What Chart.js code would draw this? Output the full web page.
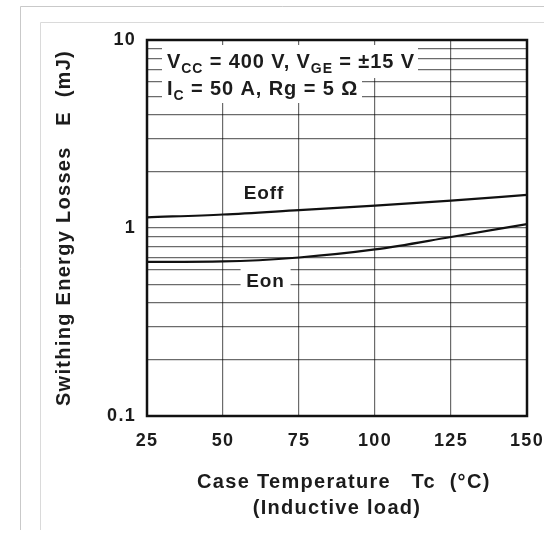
<!DOCTYPE html>
<html>
<head>
<meta charset="utf-8">
<script src="https://cdn.jsdelivr.net/npm/chart.js@4"></script>
<style>
    html, body { margin: 0; padding: 0; background: #fff; }
    #wrap { width: 544px; height: 537px; }
</style>
</head>
<body>
<div id="wrap"><canvas id="lossChart" width="544" height="537"></canvas></div>
<script>
// Case temperature (°C)
const temps = [25, 50, 75, 100, 125, 150];
// Switching energy losses (mJ)
const eoff = [1.14, 1.18, 1.245, 1.315, 1.40, 1.50];
const eon = [0.66, 0.664, 0.697, 0.769, 0.896, 1.05];

// Log axis: grid lines at every 1..9 step, labels on the decades only
const yGrid = [0.1, 0.2, 0.3, 0.4, 0.5, 0.6, 0.7, 0.8, 0.9,
               1, 2, 3, 4, 5, 6, 7, 8, 9, 10];
const yMajor = [0.1, 1, 10];
const yLabels = ['0.1', '1', '10'];
const xTicks = [25, 50, 75, 100, 125, 150];

const FONT = '"Liberation Sans", Arial, sans-serif';
const INK = '#1c1c1c';
const GRID = 'rgba(0, 0, 0, 0.58)';

// Draw text with subscript runs
function drawRuns(ctx, x, y, runs, size) {
    ctx.textAlign = 'left';
    ctx.textBaseline = 'alphabetic';
    runs.forEach(r => {
        const s = r.sub ? size * 0.7 : size;
        ctx.font = `bold ${s}px ${FONT}`;
        ctx.fillText(r.t, x, y + (r.sub ? size * 0.27 : 0));
        x += ctx.measureText(r.t).width;
    });
}

const framePlugin = {
    id: 'frame',
    beforeDraw(chart) {
        const ctx = chart.ctx;
        ctx.save();
        ctx.fillStyle = '#fff';
        ctx.fillRect(0, 0, chart.width, chart.height);
        ctx.lineWidth = 1;
        ctx.strokeStyle = '#c9c9c9';
        ctx.beginPath();
        ctx.moveTo(544, 6.5); ctx.lineTo(20.5, 6.5); ctx.lineTo(20.5, 530);
        ctx.stroke();
        ctx.strokeStyle = '#dadada';
        ctx.beginPath();
        ctx.moveTo(544, 22.5); ctx.lineTo(40.5, 22.5); ctx.lineTo(40.5, 530);
        ctx.stroke();
        ctx.restore();
        // the scanned lettering is set a little looser than Arial
        ctx.letterSpacing = '1.3px';
    },
    beforeDatasetsDraw(chart) {
        const ctx = chart.ctx;
        const ca = chart.chartArea;
        const xs = chart.scales.x, ys = chart.scales.y;
        ctx.save();
        // white boxes behind the condition text and the Eon label
        ctx.fillStyle = '#fff';
        ctx.fillRect(ca.left + 15, ca.top + 5, 256, 33);
        ctx.fillRect(ca.left + 15, ca.top + 38, 200, 25);
        const onX = xs.getPixelForValue(64), onY = ys.getPixelForValue(0.52);
        ctx.fillRect(onX - 25, onY - 15, 50, 27);

        ctx.fillStyle = INK;
        ctx.letterSpacing = '0.9px';
        drawRuns(ctx, ca.left + 20, ca.top + 28, [
            {t: 'V'}, {t: 'CC', sub: true}, {t: ' = 400 V, V'},
            {t: 'GE', sub: true}, {t: ' = ±15 V'}
        ], 20);
        drawRuns(ctx, ca.left + 20, ca.top + 55, [
            {t: 'I'}, {t: 'C', sub: true}, {t: ' = 50 A, Rg = 5 Ω'}
        ], 20);

        ctx.font = `bold 19px ${FONT}`;
        ctx.textAlign = 'center';
        ctx.textBaseline = 'middle';
        ctx.fillText('Eoff', xs.getPixelForValue(63.5), ys.getPixelForValue(1.53));
        ctx.fillText('Eon', onX, onY);
        ctx.restore();
    },
    afterDatasetsDraw(chart) {
        const ctx = chart.ctx;
        const ca = chart.chartArea;
        ctx.save();
        ctx.strokeStyle = '#111';
        ctx.lineWidth = 2.5;
        ctx.strokeRect(ca.left, ca.top, ca.right - ca.left, ca.bottom - ca.top);
        ctx.restore();
    }
};

new Chart(document.getElementById('lossChart'), {
    type: 'line',
    data: {
        labels: temps,
        datasets: [{
            label: 'Eoff',
            data: temps.map((t, i) => ({x: t, y: eoff[i]})),
            borderColor: '#111',
            borderWidth: 2.2,
            pointRadius: 0,
            cubicInterpolationMode: 'monotone'
        }, {
            label: 'Eon',
            data: temps.map((t, i) => ({x: t, y: eon[i]})),
            borderColor: '#111',
            borderWidth: 2.2,
            pointRadius: 0,
            cubicInterpolationMode: 'monotone'
        }]
    },
    options: {
        responsive: false,
        animation: false,
        layout: { padding: { top: 40, right: 17, left: 0, bottom: 0 } },
        plugins: {
            legend: { display: false },
            tooltip: { enabled: false }
        },
        scales: {
            x: {
                type: 'linear',
                min: 25,
                max: 150,
                afterFit: s => {
                    s.height = 121;
                    s.paddingLeft = 0;
                    s.paddingRight = 0;
                },
                afterBuildTicks: s => { s.ticks = xTicks.map(v => ({value: v})); },
                ticks: { padding: 14, color: INK, font: { family: FONT, size: 18, weight: 'bold' } },
                grid: { color: GRID, lineWidth: 1.2, drawTicks: false },
                border: { display: false },
                title: {
                    display: true,
                    // leading spaces nudge the first line right, as in the original
                    text: ['  Case Temperature   Tc  (°C)', '(Inductive load)'],
                    color: INK,
                    font: { family: FONT, size: 20, weight: 'bold', lineHeight: 1.32 },
                    padding: { top: 0, bottom: 15 }
                }
            },
            y: {
                type: 'logarithmic',
                min: 0.1,
                max: 10,
                afterFit: s => {
                    s.width = 147;
                    s.paddingTop = 0;
                    s.paddingBottom = 0;
                },
                afterBuildTicks: s => { s.ticks = yGrid.map(v => ({value: v})); },
                ticks: {
                    autoSkip: false,
                    padding: 11,
                    color: INK,
                    font: { family: FONT, size: 18, weight: 'bold' },
                    callback: v => {
                        const i = yMajor.indexOf(v);
                        return i >= 0 ? yLabels[i] : '';
                    }
                },
                grid: { color: GRID, lineWidth: 1.2, drawTicks: false },
                border: { display: false },
                title: {
                    display: true,
                    text: 'Swithing Energy Losses   E  (mJ)',
                    color: INK,
                    font: { family: FONT, size: 20, weight: 'bold', lineHeight: 1.2 },
                    padding: { top: 52, bottom: 0 }
                }
            }
        }
    },
    plugins: [framePlugin]
});
</script>
</body>
</html>
